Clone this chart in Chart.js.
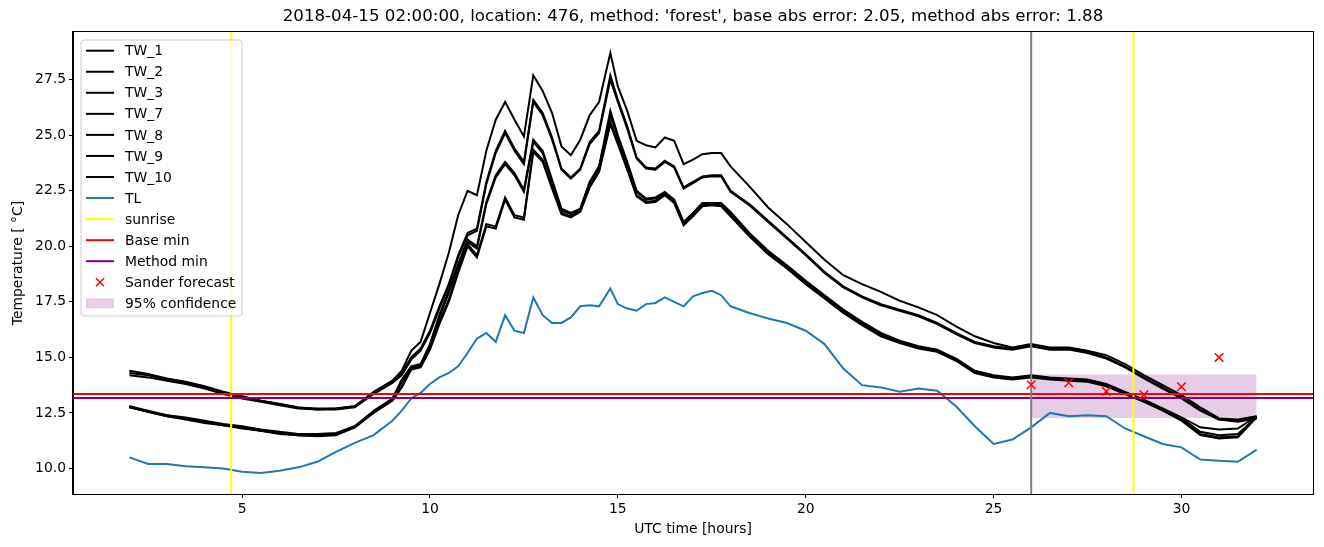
<!DOCTYPE html>
<html>
<head>
<meta charset="utf-8">
<script src="https://cdn.jsdelivr.net/npm/chart.js@4.4.0/dist/chart.umd.min.js"></script>
<style>
    html, body { margin: 0; padding: 0; background: #fff; }
</style>
</head>
<body>
<canvas id="chart" width="1324" height="547"></canvas>
<script>
// --- Data ---
const hours = [2, 2.5, 3, 3.5, 4, 4.5, 5, 5.5, 6, 6.5, 7, 7.5, 8, 8.5, 9,
    9.25, 9.5, 9.75, 10, 10.25, 10.5, 10.75, 11, 11.25, 11.5, 11.75, 12, 12.25, 12.5, 12.75, 13, 13.25, 13.5, 13.75, 14,
    14.25, 14.5, 14.8, 15, 15.25, 15.5, 15.75, 16, 16.25, 16.5, 16.75, 17, 17.25, 17.5, 17.75, 18,
    18.5, 19, 19.5, 20, 20.5, 21, 21.5, 22, 22.5, 23, 23.5, 24, 24.5, 25, 25.5, 26, 26.5, 27, 27.5, 28, 28.5, 29, 29.5,
    30, 30.5, 31, 31.5, 32];

const tw1 = [14.40, 14.25, 14.05, 13.90, 13.70, 13.45, 13.25, 13.05, 12.90, 12.75, 12.70, 12.70, 12.80, 13.45, 13.95,
    14.40, 15.30, 15.70, 17.00, 18.30, 19.70, 21.40, 22.50, 22.30, 24.30, 25.70, 26.50, 25.70, 24.95, 27.70, 27.00, 26.00, 24.50, 24.10, 24.80,
    25.90, 26.50, 28.70, 27.20, 26.10, 24.75, 24.55, 24.45, 24.90, 24.75, 23.70, 23.90, 24.15, 24.20, 24.20, 23.60,
    22.70, 21.75, 21.00, 20.20, 19.40, 18.70, 18.30, 17.95, 17.55, 17.25, 16.90, 16.40, 15.95, 15.65, 15.45, 15.60, 15.45, 15.45, 15.30, 15.10, 14.70, 14.20, 13.75,
    13.30, 12.75, 12.25, 12.20, 12.35];
const tw2 = [14.30, 14.20, 14.00, 13.85, 13.65, 13.40, 13.20, 13.05, 12.90, 12.75, 12.65, 12.70, 12.80, 13.40, 13.90,
    14.30, 15.00, 15.40, 16.20, 17.30, 18.30, 19.60, 20.60, 20.80, 22.90, 24.30, 25.20, 24.40, 23.80, 26.60, 26.00, 24.90, 23.50, 23.10, 23.50,
    24.70, 25.20, 27.70, 26.60, 25.40, 24.00, 23.55, 23.50, 23.85, 23.60, 22.65, 22.90, 23.15, 23.20, 23.20, 22.50,
    21.90, 21.15, 20.40, 19.65, 18.85, 18.20, 17.75, 17.40, 17.15, 16.90, 16.55, 16.10, 15.70, 15.50, 15.40, 15.55, 15.40, 15.40, 15.25, 15.00, 14.60, 14.10, 13.65,
    13.20, 12.65, 12.20, 12.15, 12.30];
const tw3 = [14.20, 14.10, 13.95, 13.80, 13.60, 13.35, 13.15, 13.00, 12.85, 12.70, 12.65, 12.65, 12.75, 13.35, 13.85,
    14.20, 14.90, 15.30, 16.10, 17.20, 18.20, 19.50, 20.50, 20.70, 22.80, 24.20, 25.10, 24.30, 23.70, 26.50, 25.90, 24.80, 23.45, 23.05, 23.45,
    24.60, 25.10, 27.50, 26.50, 25.30, 23.95, 23.50, 23.45, 23.80, 23.55, 22.60, 22.85, 23.10, 23.15, 23.15, 22.45,
    21.85, 21.10, 20.35, 19.60, 18.80, 18.15, 17.70, 17.35, 17.10, 16.85, 16.50, 16.05, 15.65, 15.45, 15.35, 15.50, 15.35, 15.35, 15.20, 14.95, 14.55, 14.05, 13.60,
    13.15, 12.60, 12.20, 12.10, 12.25];
const tw7 = [12.80, 12.60, 12.40, 12.30, 12.15, 12.00, 11.90, 11.75, 11.65, 11.55, 11.55, 11.60, 11.90, 12.60, 13.15,
    14.00, 14.60, 14.70, 15.60, 16.90, 18.00, 19.20, 20.30, 20.00, 22.00, 23.20, 23.80, 23.30, 22.55, 24.80, 24.30, 23.00, 21.70, 21.50, 21.70,
    22.90, 23.60, 26.10, 25.00, 23.80, 22.50, 22.15, 22.20, 22.45, 22.10, 21.10, 21.50, 21.95, 21.95, 21.95, 21.55,
    20.60, 19.80, 19.15, 18.45, 17.80, 17.15, 16.60, 16.10, 15.75, 15.50, 15.35, 14.95, 14.40, 14.20, 14.10, 14.20, 14.10, 14.05, 14.00, 13.80, 13.45, 13.10, 12.70,
    12.30, 11.85, 11.75, 11.80, 12.35];
const tw8 = [12.75, 12.55, 12.40, 12.25, 12.10, 11.95, 11.85, 11.70, 11.60, 11.50, 11.50, 11.55, 11.85, 12.55, 13.10,
    13.90, 14.55, 14.65, 15.55, 16.80, 17.90, 19.10, 20.20, 19.90, 21.90, 23.10, 23.70, 23.20, 22.45, 24.70, 24.20, 22.90, 21.60, 21.45, 21.65,
    22.85, 23.55, 25.90, 24.90, 23.70, 22.45, 22.10, 22.15, 22.40, 22.05, 21.05, 21.45, 21.90, 21.90, 21.90, 21.50,
    20.55, 19.75, 19.10, 18.40, 17.75, 17.10, 16.55, 16.05, 15.70, 15.45, 15.30, 14.90, 14.35, 14.15, 14.05, 14.15, 14.05, 14.00, 13.95, 13.75, 13.40, 13.05, 12.65,
    12.25, 11.65, 11.50, 11.55, 12.30];
const tw9 = [12.80, 12.55, 12.35, 12.25, 12.10, 11.95, 11.85, 11.70, 11.60, 11.50, 11.50, 11.55, 11.90, 12.55, 13.10,
    13.70, 14.50, 14.60, 15.40, 16.60, 17.60, 18.90, 20.10, 19.60, 21.00, 20.90, 22.20, 21.40, 21.30, 24.35, 23.90, 22.70, 21.50, 21.35, 21.60,
    22.70, 23.40, 25.60, 24.70, 23.50, 22.30, 22.00, 22.05, 22.35, 22.00, 21.00, 21.40, 21.85, 21.90, 21.85, 21.40,
    20.50, 19.70, 19.05, 18.35, 17.70, 17.05, 16.50, 16.00, 15.70, 15.45, 15.30, 14.90, 14.35, 14.15, 14.05, 14.15, 14.05, 14.00, 13.95, 13.75, 13.40, 13.05, 12.65,
    12.20, 11.55, 11.40, 11.45, 12.35];
const tw10 = [12.75, 12.55, 12.35, 12.20, 12.05, 11.95, 11.80, 11.70, 11.55, 11.50, 11.45, 11.50, 11.85, 12.50, 13.05,
    13.65, 14.45, 14.55, 15.35, 16.50, 17.50, 18.80, 20.00, 19.50, 20.90, 20.80, 22.10, 21.30, 21.20, 24.25, 23.80, 22.60, 21.45, 21.30, 21.55,
    22.65, 23.35, 25.50, 24.60, 23.45, 22.25, 21.95, 22.00, 22.30, 21.95, 20.95, 21.35, 21.80, 21.85, 21.80, 21.35,
    20.45, 19.65, 19.00, 18.30, 17.65, 17.00, 16.45, 15.95, 15.65, 15.40, 15.25, 14.85, 14.30, 14.10, 14.00, 14.10, 14.00, 13.95, 13.90, 13.70, 13.35, 13.00, 12.60,
    12.15, 11.50, 11.35, 11.40, 12.30];
const tl = [10.50, 10.20, 10.20, 10.10, 10.05, 10.00, 9.85, 9.80, 9.90, 10.05, 10.30, 10.75, 11.15, 11.50, 12.15,
    12.60, 13.15, 13.40, 13.80, 14.10, 14.30, 14.60, 15.20, 15.85, 16.10, 15.70, 16.90, 16.20, 16.10, 17.70, 16.90, 16.55, 16.55, 16.80, 17.30,
    17.35, 17.30, 18.10, 17.40, 17.20, 17.10, 17.40, 17.45, 17.70, 17.50, 17.30, 17.75, 17.90, 18.00, 17.80, 17.30,
    17.00, 16.75, 16.55, 16.20, 15.60, 14.50, 13.75, 13.65, 13.45, 13.60, 13.50, 12.80, 11.90, 11.10, 11.30, 11.85, 12.50, 12.35, 12.40, 12.35, 11.80, 11.45, 11.10,
    10.95, 10.40, 10.35, 10.30, 10.85];

const twNames = ['TW_1', 'TW_2', 'TW_3', 'TW_7', 'TW_8', 'TW_9', 'TW_10'];
const twSeries = [tw1, tw2, tw3, tw7, tw8, tw9, tw10];

const sunriseHours = [4.71, 28.72];
const forecastStart = 26;
const baseMin = 13.35;
const methodMin = 13.17;
const forecastHours = [26, 27, 28, 29, 30, 31];
const forecastTemps = [13.77, 13.86, 13.47, 13.32, 13.68, 15.0];
const confHours = [26, 32];
const confLow = [12.27, 12.27];
const confHigh = [14.23, 14.23];

const xRange = [0.5, 33.5];
const yRange = [8.85, 29.65];
const xTicks = [5, 10, 15, 20, 25, 30];
const yTicks = [10, 12.5, 15, 17.5, 20, 22.5, 25, 27.5];

const titleText = "2018-04-15 02:00:00, location: 476, method: 'forest', base abs error: 2.05, method abs error: 1.88";
const FONT = "'DejaVu Sans', 'Liberation Sans', sans-serif";

// --- Datasets ---
const pts = (xs, ys) => xs.map((x, i) => ({ x: x, y: ys[i] }));
const lineDs = (data, color, order, width) => ({
    data: data, showLine: true, borderColor: color, borderWidth: width || 2,
    pointRadius: 0, fill: false, tension: 0, order: order
});

const datasets = [];
twSeries.forEach((s, i) => datasets.push(lineDs(pts(hours, s), '#000000', 90 - i)));
datasets.push(lineDs(pts(hours, tl), '#1f77b4', 80));
sunriseHours.forEach(h => datasets.push(lineDs(pts([h, h], yRange), '#ffff00', 70)));
datasets.push(lineDs(pts(xRange, [baseMin, baseMin]), '#ff0000', 60));
datasets.push(lineDs(pts(xRange, [methodMin, methodMin]), '#800080', 59));
datasets.push(lineDs(pts([forecastStart, forecastStart], yRange), '#808080', 55));
datasets.push({
    data: pts(forecastHours, forecastTemps), showLine: false, pointStyle: 'crossRot',
    pointRadius: 6, borderColor: '#ff0000', borderWidth: 1.5, order: 50
});
// confidence band: upper edge filled down to the lower edge
datasets.push({
    data: pts(confHours, confHigh), showLine: true, borderWidth: 0, pointRadius: 0,
    backgroundColor: 'rgba(128, 0, 128, 0.2)', fill: '+1', order: 100
});
datasets.push({
    data: pts(confHours, confLow), showLine: true, borderWidth: 0, pointRadius: 0,
    fill: false, order: 101
});

// --- Legend entries ---
const legendItems = [
    ...twNames.map(n => ({ label: n, type: 'line', color: '#000000' })),
    { label: 'TL', type: 'line', color: '#1f77b4' },
    { label: 'sunrise', type: 'line', color: '#ffff00' },
    { label: 'Base min', type: 'line', color: '#ff0000' },
    { label: 'Method min', type: 'line', color: '#800080' },
    { label: 'Sander forecast', type: 'cross', color: '#ff0000' },
    { label: '95% confidence', type: 'patch', color: 'rgba(128, 0, 128, 0.2)' }
];

// --- Frame, titles and legend (matplotlib style) ---
const framePlugin = {
    id: 'frame',
    afterDraw(chart) {
        const ctx = chart.ctx;
        const a = chart.chartArea;
        ctx.save();

        // spines
        ctx.strokeStyle = '#000';
        ctx.lineWidth = 1;
        ctx.strokeRect(Math.round(a.left) - 0.5, Math.round(a.top) - 0.5,
            Math.round(a.right - a.left) + 1, Math.round(a.bottom - a.top) + 1);

        // title and axis labels
        ctx.fillStyle = '#000';
        ctx.textAlign = 'center';
        ctx.textBaseline = 'middle';
        ctx.font = `16.67px ${FONT}`;
        ctx.fillText(titleText, (a.left + a.right) / 2, 17);
        ctx.font = `13.9px ${FONT}`;
        ctx.fillText('UTC time [hours]', (a.left + a.right) / 2, 529);
        ctx.save();
        ctx.translate(18, (a.top + a.bottom) / 2);
        ctx.rotate(-Math.PI / 2);
        ctx.fillText('Temperature [ \u00B0C]', 0, 0);
        ctx.restore();

        // legend box
        const bx = 81, by = 40, bw = 161, bh = 276, r = 3;
        ctx.beginPath();
        ctx.moveTo(bx + r, by);
        ctx.arcTo(bx + bw, by, bx + bw, by + bh, r);
        ctx.arcTo(bx + bw, by + bh, bx, by + bh, r);
        ctx.arcTo(bx, by + bh, bx, by, r);
        ctx.arcTo(bx, by, bx + bw, by, r);
        ctx.closePath();
        ctx.fillStyle = 'rgba(255, 255, 255, 0.8)';
        ctx.fill();
        ctx.strokeStyle = '#cccccc';
        ctx.stroke();

        ctx.textAlign = 'left';
        ctx.font = `13.9px ${FONT}`;
        legendItems.forEach((item, i) => {
            const y = 50.7 + i * 21.05;
            if (item.type === 'line') {
                ctx.strokeStyle = item.color;
                ctx.lineWidth = 2;
                ctx.beginPath();
                ctx.moveTo(86, y);
                ctx.lineTo(114, y);
                ctx.stroke();
            } else if (item.type === 'cross') {
                ctx.strokeStyle = item.color;
                ctx.lineWidth = 1.5;
                ctx.beginPath();
                ctx.moveTo(96, y - 4); ctx.lineTo(104, y + 4);
                ctx.moveTo(96, y + 4); ctx.lineTo(104, y - 4);
                ctx.stroke();
            } else {
                ctx.fillStyle = item.color;
                ctx.fillRect(86, y - 5, 28, 10);
            }
            ctx.fillStyle = '#000';
            ctx.fillText(item.label, 125, y + 1);
        });
        ctx.restore();
    }
};

// --- Chart ---
const tickFont = { family: FONT, size: 13.9 };
new Chart(document.getElementById('chart').getContext('2d'), {
    type: 'scatter',
    data: { datasets: datasets },
    options: {
        responsive: false,
        animation: false,
        devicePixelRatio: 1,
        layout: { padding: { left: 0, right: 11, top: 32, bottom: 0 } },
        plugins: {
            legend: { display: false },
            tooltip: { enabled: false },
            title: { display: false }
        },
        scales: {
            x: {
                type: 'linear',
                min: xRange[0],
                max: xRange[1],
                afterBuildTicks: s => { s.ticks = xTicks.map(v => ({ value: v })); },
                afterFit: s => { s.height = 53; },
                grid: { drawOnChartArea: false, drawTicks: true, tickLength: 4, color: '#000' },
                border: { display: true, color: '#000', width: 1 },
                ticks: { color: '#000', font: tickFont, padding: 3, maxRotation: 0, callback: v => String(v) }
            },
            y: {
                type: 'linear',
                min: yRange[0],
                max: yRange[1],
                afterBuildTicks: s => { s.ticks = yTicks.map(v => ({ value: v })); },
                afterFit: s => { s.width = 73; },
                grid: { drawOnChartArea: false, drawTicks: true, tickLength: 4, color: '#000' },
                border: { display: true, color: '#000', width: 1 },
                ticks: { color: '#000', font: tickFont, padding: 3, callback: v => Number(v).toFixed(1) }
            }
        }
    },
    plugins: [framePlugin]
});
</script>
</body>
</html>
